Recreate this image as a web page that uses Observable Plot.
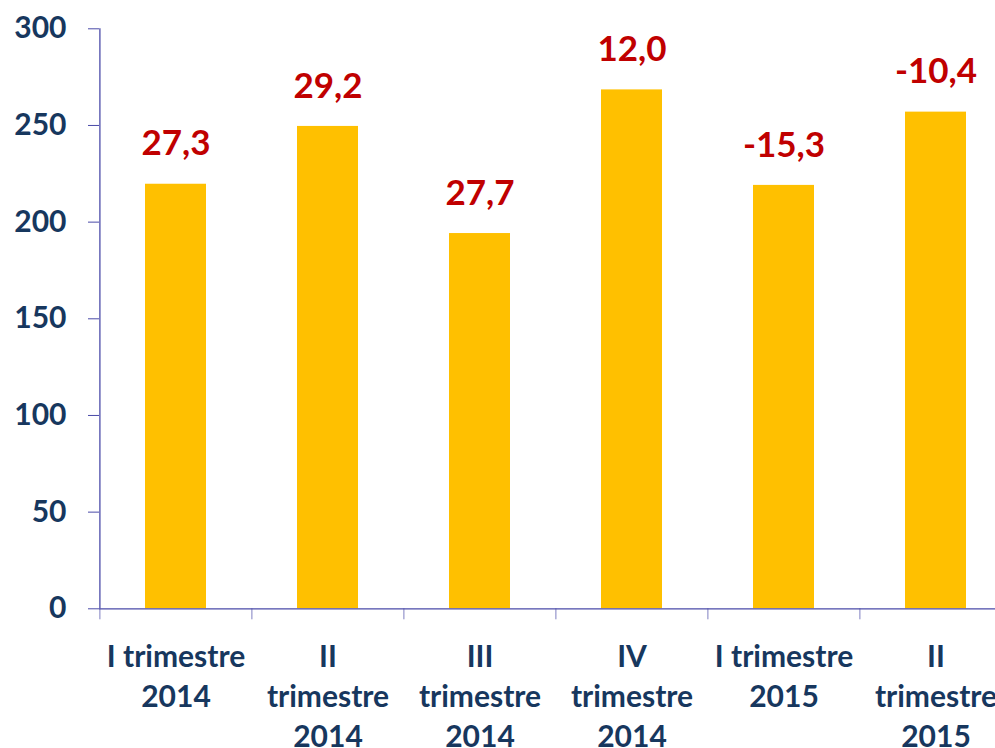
<!DOCTYPE html>
<html>
<head>
<meta charset="utf-8">
<script src="https://cdn.jsdelivr.net/npm/d3@7"></script>
<script src="https://cdn.jsdelivr.net/npm/@observablehq/plot@0.6"></script>
<style>
  html, body { margin: 0; padding: 0; background: #fff; overflow: hidden; }
  #chart svg { font-family: Lato, "Open Sans", sans-serif; font-weight: bold; }
</style>
</head>
<body>
<div id="chart"></div>
<script>
const categories = ["I trimestre 2014", "II trimestre 2014", "III trimestre 2014", "IV trimestre 2014", "I trimestre 2015", "II trimestre 2015"];
const tickLabels = ["I trimestre\n2014", "II\ntrimestre\n2014", "III\ntrimestre\n2014", "IV\ntrimestre\n2014", "I trimestre\n2015", "II\ntrimestre\n2015"];
const values = [219.6, 249.5, 194.1, 268.4, 219.0, 256.9];
const changes = ["27,3", "29,2", "27,7", "12,0", "-15,3", "-10,4"];
const yTicks = [0, 50, 100, 150, 200, 250, 300];

const data = categories.map((c, i) => ({cat: c, value: values[i], change: changes[i], label: tickLabels[i]}));

const axisColor = "#4a4aa8";
const labelColor = "#17375E";
const step = 152.2;
const x0 = 99;

const chart = Plot.plot({
  width: 995,
  height: 748,
  marginLeft: 99,
  marginRight: 0,
  marginTop: 28,
  marginBottom: 140,
  x: {type: "band", domain: categories, range: [x0, x0 + step * categories.length], paddingInner: 0.6, paddingOuter: 0.3, axis: null},
  y: {domain: [0, 300], range: [608.3, 28.3], axis: null},
  marks: [
    Plot.barY(data, {x: "cat", y: "value", fill: "#FFC000"}),
    Plot.ruleY([0], {stroke: axisColor, strokeWidth: 1.3}),
    Plot.ruleX([categories[0]], {x: d => d, y1: 0, y2: 300, dx: -step / 2, stroke: axisColor, strokeWidth: 1.3}),
    Plot.ruleX(categories, {x: d => d, y1: 0, y2: 0, insetBottom: -11, dx: -step / 2, stroke: axisColor, strokeOpacity: 0.7}),
    Plot.axisY(yTicks, {label: null, tickSize: 11, tickPadding: 22, stroke: axisColor, color: labelColor, fontSize: 30, fontWeight: "bold"}),
    Plot.text(data, {x: "cat", y: 0, text: "label", lineAnchor: "top", dy: 30, lineHeight: 1.33, fontSize: 30, fontWeight: "bold", fill: labelColor}),
    Plot.text(data, {x: "cat", y: "value", text: "change", dy: -40, fontSize: 35, fontWeight: "bold", fill: "#C00000"})
  ]
});
document.getElementById("chart").appendChild(chart);
</script>
</body>
</html>
